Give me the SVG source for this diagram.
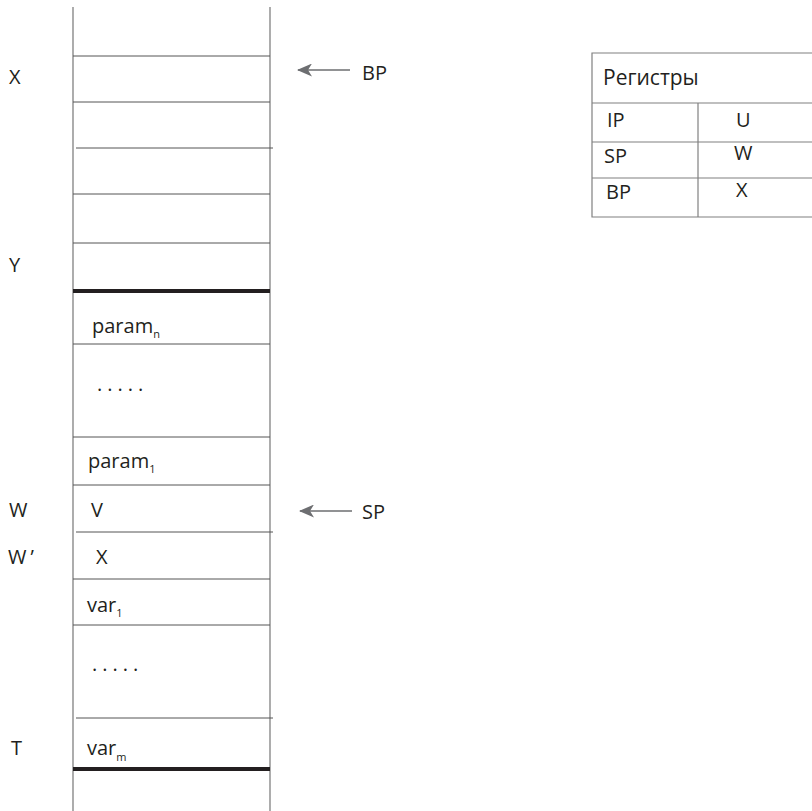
<svg xmlns="http://www.w3.org/2000/svg" width="812" height="811" viewBox="0 0 812 811">
<style>
text{font-family:"Open Sans","Liberation Sans",sans-serif;font-size:20px;fill:#231f20}
.sub{font-size:11px}
.title{font-size:21px}
.v{stroke:#808080;stroke-width:1.3}
.h{stroke:#555;stroke-width:1}
.thick{stroke:#231f20;stroke-width:4}
.arr{stroke:#6d6e71;stroke-width:1.5;fill:none}
.tb{stroke:#808080;stroke-width:1.2;fill:none}
.dots{letter-spacing:5px}
</style>
<defs>
<marker id="ah" viewBox="0 0 15 13" refX="14" refY="6.5" markerWidth="15" markerHeight="13" markerUnits="userSpaceOnUse" orient="auto">
<path d="M0,0 L15,6.5 L0,13 L4,6.5 Z" fill="#6d6e71"/>
</marker>
</defs>
<g id="stack">
<line class="v" x1="73" y1="7" x2="73" y2="811"/>
<line class="v" x1="270" y1="7" x2="270" y2="811"/>
<line class="h" x1="73" y1="56" x2="270" y2="56"/>
<line class="h" x1="73" y1="102" x2="270" y2="102"/>
<line class="h" x1="76" y1="148" x2="273" y2="148"/>
<line class="h" x1="73" y1="194" x2="270" y2="194"/>
<line class="h" x1="73" y1="243" x2="270" y2="243"/>
<line class="thick" x1="73" y1="291" x2="270" y2="291"/>
<line class="h" x1="73" y1="344" x2="270" y2="344"/>
<line class="h" x1="73" y1="437" x2="270" y2="437"/>
<line class="h" x1="73" y1="485" x2="270" y2="485"/>
<line class="h" x1="76" y1="532" x2="273" y2="532"/>
<line class="h" x1="73" y1="579" x2="270" y2="579"/>
<line class="h" x1="73" y1="625" x2="270" y2="625"/>
<line class="h" x1="76" y1="718" x2="273" y2="718"/>
<line class="thick" x1="73" y1="769" x2="270" y2="769"/>
</g>
<g id="cells">
<text x="92" y="333">param<tspan class="sub" dy="5">n</tspan></text>
<text class="dots" x="97" y="391">.....</text>
<text x="88" y="468">param<tspan class="sub" dy="5">1</tspan></text>
<text x="91" y="517">V</text>
<text x="96" y="564">X</text>
<text x="87" y="612">var<tspan class="sub" dy="5">1</tspan></text>
<text class="dots" x="92" y="671">.....</text>
<text x="87" y="755">var<tspan class="sub" dy="6">m</tspan></text>
</g>
<g id="addresses">
<text x="9" y="84">X</text>
<text x="9" y="272">Y</text>
<text x="9" y="517">W</text>
<text x="8" y="564">W<tspan dx="4">’</tspan></text>
<text x="11" y="755">T</text>
</g>
<g id="connectors">
<line class="arr" x1="350" y1="70" x2="298" y2="70" marker-end="url(#ah)"/>
<line class="arr" x1="352" y1="511" x2="300" y2="511" marker-end="url(#ah)"/>
</g>
<g id="pointer-labels">
<text x="362" y="80">BP</text>
<text x="362" y="519">SP</text>
</g>
<g id="registers">
<path class="tb" d="M812,53 H592 V217 H812"/>
<line class="tb" x1="592" y1="103" x2="812" y2="103"/>
<line class="tb" x1="592" y1="142" x2="812" y2="142"/>
<line class="tb" x1="592" y1="178" x2="812" y2="178"/>
<line class="tb" x1="698" y1="103" x2="698" y2="217"/>
<text class="title" x="603" y="85">Регистры</text>
<text x="607" y="127">IP</text>
<text x="736" y="127">U</text>
<text x="604" y="163">SP</text>
<text x="734" y="160">W</text>
<text x="606" y="199">BP</text>
<text x="736" y="197">X</text>
</g>
</svg>
